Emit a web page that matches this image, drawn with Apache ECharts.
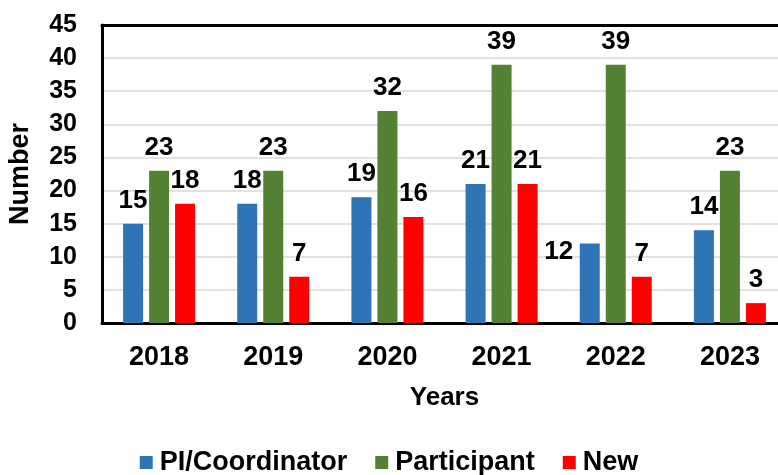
<!DOCTYPE html>
<html>
<head>
<meta charset="utf-8">
<script src="https://cdn.jsdelivr.net/npm/echarts@6/dist/echarts.min.js"></script>
<style>
  html, body { margin: 0; padding: 0; background: #fff; }
  #chart { width: 778px; height: 475px; }
</style>
</head>
<body>
<div id="chart"></div>
<script>
  // data
  var years = ['2018', '2019', '2020', '2021', '2022', '2023'];
  var seriesNames = ['PI/Coordinator', 'Participant', 'New'];
  var piCoordinator = [15, 18, 19, 21, 12, 14];
  var participant = [23, 23, 32, 39, 39, 23];
  var newOnes = [18, 7, 16, 21, 7, 3];
  var yTicks = [0, 5, 10, 15, 20, 25, 30, 35, 40, 45];

  var colors = ['#2E75B6', '#548235', '#FF0000'];
  var font = "'Liberation Sans', Arial, sans-serif";

  var labelOption = {
    show: true,
    position: 'top',
    distance: 10,
    color: '#000',
    fontSize: 26,
    fontWeight: 'bold',
    fontFamily: font
  };

  // the 2022 PI label sits left of its bar in the original
  function makeData(values, name) {
    var data = [];
    for (let i = 0; i < values.length; i++) {
      let item = { value: values[i] };
      if (name === 'PI/Coordinator' && years[i] === '2022') {
        item.label = { offset: [-31, 31] };
      }
      data.push(item);
    }
    return data;
  }

  var lists = [piCoordinator, participant, newOnes];
  var series = [];
  for (let i = 0; i < seriesNames.length; i++) {
    series.push({
      name: seriesNames[i],
      type: 'bar',
      barWidth: 20,
      barGap: '30%',
      itemStyle: { color: colors[i] },
      label: labelOption,
      data: makeData(lists[i], seriesNames[i])
    });
  }

  var option = {
    animation: false,
    textStyle: { fontFamily: font },
    grid: {
      left: 102,
      width: 685,
      top: 25,
      bottom: 152,
      outerBoundsMode: 'none'
    },
    legend: {
      top: 444,
      left: 'center',
      itemWidth: 13,
      itemHeight: 13,
      itemGap: 28,
      icon: 'rect',
      textStyle: { fontSize: 27, fontWeight: 'bold', color: '#000', fontFamily: font, padding: [0, 0, 0, 2] }
    },
    xAxis: [{
      type: 'category',
      data: years,
      name: 'Years',
      nameLocation: 'middle',
      nameGap: 62,
      nameTextStyle: { fontSize: 26, fontWeight: 'bold', color: '#000', fontFamily: font },
      axisTick: { show: false },
      axisLine: { lineStyle: { color: '#000', width: 3 } },
      axisLabel: { margin: 21, fontSize: 27, fontWeight: 'bold', color: '#000', fontFamily: font }
    }, {
      // plain black frame line along the top
      type: 'category',
      position: 'top',
      z: 5,
      data: years,
      axisTick: { show: false },
      axisLabel: { show: false },
      axisLine: { lineStyle: { color: '#000', width: 3 } }
    }],
    yAxis: {
      type: 'value',
      min: yTicks[0],
      max: yTicks[yTicks.length - 1],
      interval: yTicks[1] - yTicks[0],
      name: 'Number',
      nameLocation: 'middle',
      nameGap: 68,
      nameTextStyle: { fontSize: 27, fontWeight: 'bold', color: '#000', fontFamily: font },
      axisLine: { show: true, lineStyle: { color: '#000', width: 3 } },
      axisTick: { show: false },
      splitLine: { lineStyle: { color: '#D9D9D9', width: 1.5 } },
      axisLabel: { margin: 25, fontSize: 25, fontWeight: 'bold', color: '#000', fontFamily: font }
    },
    series: series
  };

  var myChart = echarts.init(document.getElementById('chart'));
  myChart.setOption(option);
</script>
</body>
</html>
